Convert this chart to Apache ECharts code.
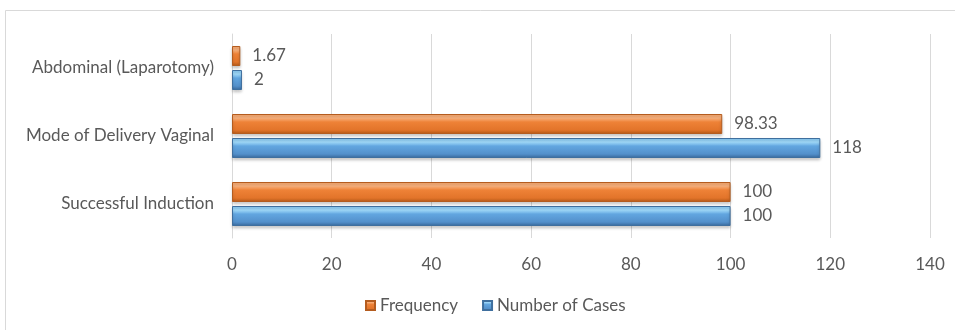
<!DOCTYPE html>
<html>
<head>
<meta charset="utf-8">
<script src="https://cdn.jsdelivr.net/npm/echarts@6/dist/echarts.min.js"></script>
<style>
  html, body { margin: 0; padding: 0; background: #fff; }
  #chart { width: 955px; height: 330px; }
</style>
</head>
<body>
<div id="chart"></div>
<script>
// Categories listed bottom-to-top along the vertical axis
const categories = ['Successful Induction', 'Mode of Delivery Vaginal', 'Abdominal (Laparotomy)'];
const frequency = [100, 98.33, 1.67];
const numberOfCases = [100, 118, 2];
const axisTicks = [0, 20, 40, 60, 80, 100, 120, 140];

const FONT = 'Lato, "Open Sans", sans-serif';
const TEXT = '#595959';

// Vertical gradient giving the bars a bevelled, rounded look
function bevel(stops) {
  return new echarts.graphic.LinearGradient(0, 0, 0, 1,
    stops.map(([offset, color]) => ({ offset, color })));
}

const chart = echarts.init(document.getElementById('chart'), null, { renderer: 'canvas' });

const barShadow = {
  shadowColor: 'rgba(0,0,0,0.22)',
  shadowBlur: 3,
  shadowOffsetY: 2
};

chart.setOption({
  animation: false,
  backgroundColor: '#ffffff',
  graphic: [{
    type: 'rect',
    shape: { x: 5.5, y: 10.5, width: 960, height: 330 },
    style: { fill: 'none', stroke: '#d9d9d9', lineWidth: 1 },
    silent: true
  }],
  grid: { left: 232, right: 25, top: 34, bottom: 92, containLabel: false },
  legend: {
    data: ['Frequency', 'Number of Cases'],
    bottom: 11,
    left: 360,
    itemWidth: 9,
    itemHeight: 9,
    itemGap: 24,
    icon: 'rect',
    textStyle: { fontFamily: FONT, fontSize: 17, color: TEXT }
  },
  xAxis: {
    type: 'value',
    min: axisTicks[0],
    max: axisTicks[axisTicks.length - 1],
    interval: 20,
    axisLine: { show: false },
    axisTick: { show: false },
    splitLine: { show: true, lineStyle: { color: '#d9d9d9', width: 1 } },
    axisLabel: { margin: 18, fontFamily: FONT, fontSize: 17, color: TEXT }
  },
  yAxis: {
    type: 'category',
    data: categories,
    axisLine: { show: true, lineStyle: { color: '#d9d9d9' } },
    axisTick: { show: false },
    axisLabel: { margin: 18, fontFamily: FONT, fontSize: 17, color: TEXT }
  },
  series: [
    {
      name: 'Frequency',
      type: 'bar',
      data: frequency,
      barWidth: 20,
      barGap: '20%',
      itemStyle: Object.assign({
        color: bevel([[0, '#f4a46a'], [0.2, '#f9b27e'], [0.4, '#ee8237'], [0.8, '#e2742a'], [1, '#b35818']]),
        borderColor: '#b45c1f',
        borderWidth: 1
      }, barShadow),
      label: {
        show: true, position: 'right', distance: 12,
        fontFamily: FONT, fontSize: 17, color: TEXT
      }
    },
    {
      name: 'Number of Cases',
      type: 'bar',
      data: numberOfCases,
      barWidth: 20,
      barGap: '20%',
      itemStyle: Object.assign({
        color: bevel([[0, '#7fc3f0'], [0.2, '#a3dcfb'], [0.4, '#62a6e0'], [0.8, '#5390cb'], [1, '#38689b']]),
        borderColor: '#3f6f9e',
        borderWidth: 1
      }, barShadow),
      label: {
        show: true, position: 'right', distance: 12,
        fontFamily: FONT, fontSize: 17, color: TEXT
      }
    }
  ],
  color: ['#ed7d31', '#5b9bd5']
});
</script>
</body>
</html>
